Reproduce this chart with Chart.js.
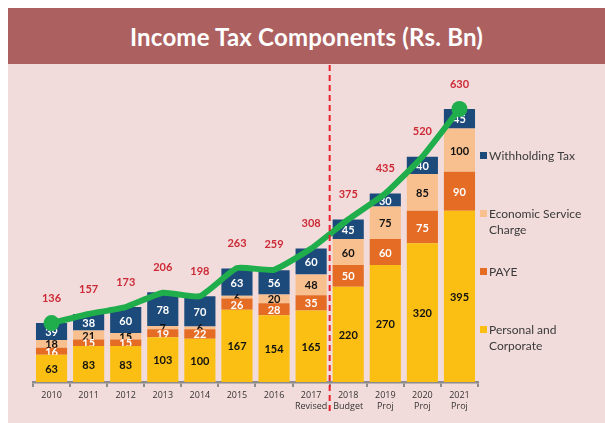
<!DOCTYPE html>
<html><head><meta charset="utf-8">
<script src="https://cdn.jsdelivr.net/npm/chart.js@4/dist/chart.umd.min.js"></script>
<style>
html,body{margin:0;padding:0;background:#fff;}
#wrap{position:relative;width:605px;height:423px;overflow:hidden;}
#bg{position:absolute;left:8px;top:64px;right:0;bottom:0;background:#f2dcdb;}
#title{position:absolute;left:8px;top:8px;right:0;height:56px;background:#ad6060;color:#fff;font-family:Lato,"Open Sans",sans-serif;font-weight:bold;font-size:24px;display:flex;align-items:center;justify-content:center;letter-spacing:0.2px;}
#c{position:absolute;left:0;top:0;}
</style></head>
<body>
<div id="wrap">
<div id="bg"></div>
<div id="title">Income Tax Components (Rs. Bn)</div>
<canvas id="c" width="605" height="423"></canvas>
</div>
<script>
const categories = [["2010"],["2011"],["2012"],["2013"],["2014"],["2015"],["2016"],["2017","Revised"],["2018","Budget"],["2019","Proj"],["2020","Proj"],["2021","Proj"]];
const personalCorporate = [63,83,83,103,100,167,154,165,220,270,320,395];
const paye = [16,15,15,19,22,26,28,35,50,60,75,90];
const economicServiceCharge = [18,21,15,7,6,6,20,48,60,75,85,100];
const withholdingTax = [39,38,60,78,70,63,56,60,45,30,40,45];
const totals = [136,157,173,206,198,263,259,308,375,435,520,630];
const seriesNames = ["Personal and Corporate","PAYE","Economic Service Charge","Withholding Tax"];
const legendLines = [["Withholding Tax"],["Economic Service","Charge"],["PAYE"],["Personal and","Corporate"]];

const colors = {personal:"#fbbf14", paye:"#e46c24", esc:"#f9c08f", wht:"#1b4a7b", line:"#20ae4c", total:"#cc2a36"};
const labelColors = ["#111","#fff","#111","#fff"];

const segLabels = {
  id:'segLabels',
  afterDatasetDraw(chart, args){
    const ds = chart.data.datasets[args.index];
    if (ds.type !== 'bar') return;
    const ctx = chart.ctx;
    ctx.save();
    ctx.font = "bold 11px Lato, 'Open Sans', sans-serif";
    ctx.textAlign = 'center'; ctx.textBaseline = 'middle';
    ctx.fillStyle = labelColors[args.index];
    args.meta.data.forEach((el,i)=>{
      const v = ds.data[i];
      ctx.fillText(String(v), el.x, (el.y+el.base)/2 + 1);
    });
    ctx.restore();
  }
};

const extras = {
  id:'extras',
  afterDraw(chart){
    const ctx = chart.ctx, x = chart.scales.x, y = chart.scales.y, ca = chart.chartArea;
    ctx.save();
    ctx.font = "bold 11px Lato, 'Open Sans', sans-serif";
    ctx.fillStyle = colors.total; ctx.textAlign='center'; ctx.textBaseline='middle';
    totals.forEach((t,i)=>{
      ctx.fillText(String(t), x.getPixelForValue(i), y.getPixelForValue(t) - 25);
    });
    const xd = (x.getPixelForValue(7) + x.getPixelForValue(8))/2;
    ctx.strokeStyle = '#e8202a'; ctx.lineWidth = 2; ctx.setLineDash([6,4]);
    ctx.beginPath(); ctx.moveTo(xd, 65); ctx.lineTo(xd, 413); ctx.stroke();
    ctx.setLineDash([]);
    const legendColors = [colors.wht, colors.esc, colors.paye, colors.personal];
    ctx.font = "12px Lato, 'Open Sans', sans-serif";
    ctx.textAlign='left';
    legendLines.forEach((lines,k)=>{
      const yy = 156 + k*58;
      ctx.fillStyle = legendColors[k];
      ctx.fillRect(ca.right + 2, yy - 4, 7, 7);
      ctx.fillStyle = '#3a3a3a';
      lines.forEach((ln,j)=> ctx.fillText(ln, ca.right + 11, yy + j*16));
    });
    ctx.restore();
  }
};

new Chart(document.getElementById('c'), {
  data: {
    labels: categories,
    datasets: [
      {type:'bar', label:seriesNames[0], data:personalCorporate, backgroundColor:colors.personal, order:1},
      {type:'bar', label:seriesNames[1], data:paye, backgroundColor:colors.paye, order:1},
      {type:'bar', label:seriesNames[2], data:economicServiceCharge, backgroundColor:colors.esc, order:1},
      {type:'bar', label:seriesNames[3], data:withholdingTax, backgroundColor:colors.wht, order:1},
      {type:'line', label:'Total', data:totals, stack:'total', borderColor:colors.line, backgroundColor:colors.line,
       borderWidth:6, tension:0.15, order:0,
       pointRadius: totals.map((v,i)=> (i===0 || i===totals.length-1) ? 8 : 0),
       pointBorderWidth:0, borderCapStyle:'round', borderJoinStyle:'round'}
    ]
  },
  options: {
    responsive:false, animation:false,
    layout:{padding:{left:33, right:127, top:78.7, bottom:0}},
    datasets:{bar:{barPercentage:0.84, categoryPercentage:1.0}},
    plugins:{legend:{display:false}, tooltip:{enabled:false}},
    scales:{
      x:{stacked:true, offset:true,
         grid:{display:true, offset:true, drawOnChartArea:false, drawTicks:true, tickLength:5, color:'#8c8c8c', lineWidth:2},
         border:{display:true, color:'#8c8c8c', width:2.5},
         ticks:{color:'#333', font:{family:"'Open Sans', sans-serif", size:9}, padding:3, maxRotation:0, autoSkip:false},
         afterFit(s){ s.height = 41; }
      },
      y:{stacked:true, display:false, min:0, max:700}
    }
  },
  plugins:[segLabels, extras]
});
</script>
</body></html>
